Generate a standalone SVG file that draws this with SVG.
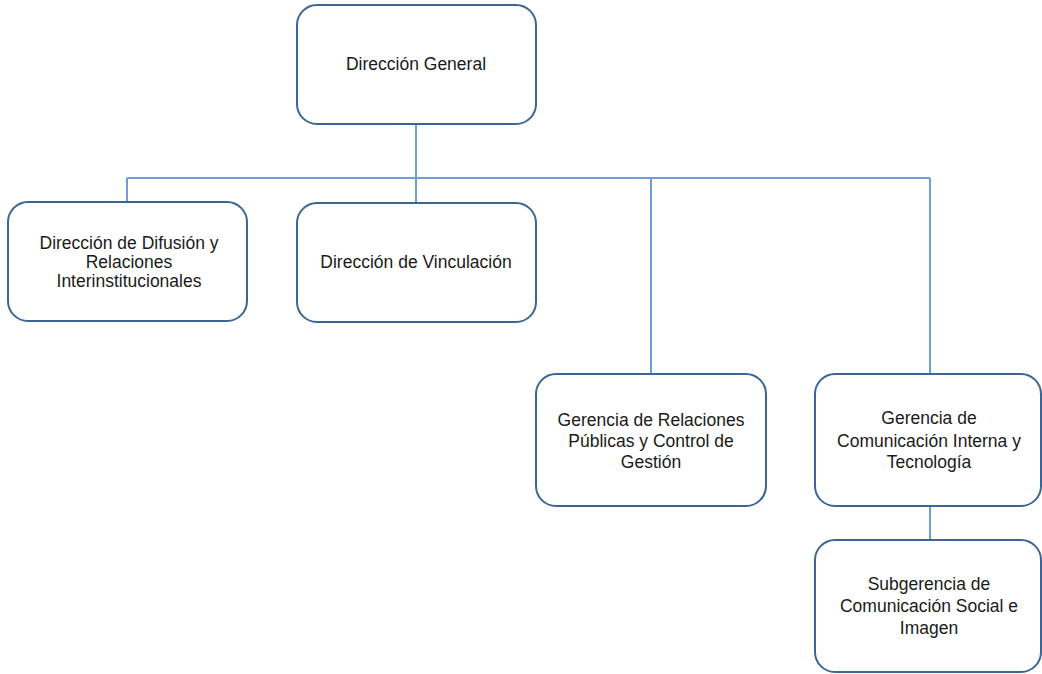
<svg xmlns="http://www.w3.org/2000/svg" width="1042" height="674" viewBox="0 0 1042 674">
<style>
.box{fill:#fff;stroke:#3d6593;stroke-width:2}
.lbl{font-family:"Liberation Sans",Arial,sans-serif;font-size:17.5px;fill:#1a1a1a;text-anchor:middle}
.con{fill:none;stroke:#6d9fd6;stroke-width:2}
</style>
<rect width="1042" height="674" fill="#fff"/>
<g id="connectors">
<path class="con" d="M416 124V178M127 178H930M127 178V202M416 178V203M651 178V374M930 178V374M930 506V540"/>
</g>
<g id="n-general">
<rect class="box" x="297" y="5" width="239" height="119" rx="20"/>
<text class="lbl" x="416" y="70">Dirección General</text>
</g>
<g id="n-difusion">
<rect class="box" x="8" y="202" width="239" height="119" rx="20"/>
<text class="lbl" x="129" y="249">Dirección de Difusión y</text>
<text class="lbl" x="129" y="268">Relaciones</text>
<text class="lbl" x="129" y="287">Interinstitucionales</text>
</g>
<g id="n-vinculacion">
<rect class="box" x="297" y="203" width="239" height="119" rx="20"/>
<text class="lbl" x="416" y="268">Dirección de Vinculación</text>
</g>
<g id="n-relaciones">
<rect class="box" x="536" y="374" width="230" height="132" rx="20"/>
<text class="lbl" x="651" y="426">Gerencia de Relaciones</text>
<text class="lbl" x="651" y="447">Públicas y Control de</text>
<text class="lbl" x="651" y="468">Gestión</text>
</g>
<g id="n-comunicacion">
<rect class="box" x="815" y="374" width="226" height="132" rx="20"/>
<text class="lbl" x="929" y="424">Gerencia de</text>
<text class="lbl" x="929" y="447">Comunicación Interna y</text>
<text class="lbl" x="929" y="468">Tecnología</text>
</g>
<g id="n-subgerencia">
<rect class="box" x="815" y="540" width="226" height="132" rx="20"/>
<text class="lbl" x="929" y="590">Subgerencia de</text>
<text class="lbl" x="929" y="612">Comunicación Social e</text>
<text class="lbl" x="929" y="634">Imagen</text>
</g>
</svg>
